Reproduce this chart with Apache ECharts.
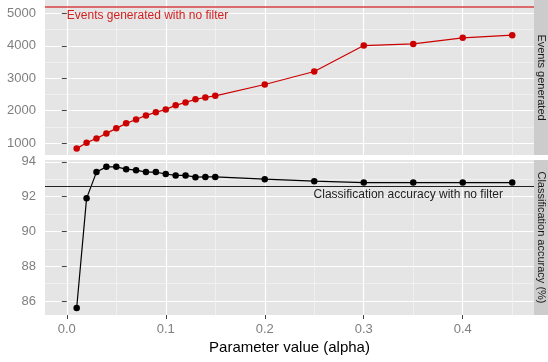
<!DOCTYPE html>
<html>
<head>
<meta charset="utf-8">
<script src="https://cdn.jsdelivr.net/npm/echarts@6/dist/echarts.min.js"></script>
<style>
  html, body { margin: 0; padding: 0; background: #fff; }
  #chart { width: 548px; height: 362px; }
</style>
</head>
<body>
<div id="chart"></div>
<script>
// parameter values (alpha)
const alpha = [0.01, 0.02, 0.03, 0.04, 0.05, 0.06, 0.07, 0.08, 0.09, 0.10,
               0.11, 0.12, 0.13, 0.14, 0.15, 0.20, 0.25, 0.30, 0.35, 0.40, 0.45];
// events generated
const eventsGenerated = [830, 1010, 1145, 1300, 1455, 1610, 1730, 1855, 1950, 2040,
                         2165, 2255, 2350, 2410, 2460, 2810, 3210, 4010, 4060, 4250, 4330];
// classification accuracy (%)
const accuracy = [85.6, 91.9, 93.41, 93.71, 93.71, 93.58, 93.52, 93.41, 93.41, 93.3,
                  93.22, 93.22, 93.12, 93.13, 93.13, 93.0, 92.89, 92.81, 92.81, 92.81, 92.81];
const eventsNoFilter = 5200;
const accuracyNoFilter = 92.6;

const xTicks = [0, 0.1, 0.2, 0.3, 0.4];
const xMinor = [0.05, 0.15, 0.25, 0.35, 0.45];
const eventsTicks = [1000, 2000, 3000, 4000, 5000];
const eventsMinor = [1500, 2500, 3500, 4500];
const accTicks = [86, 88, 90, 92, 94];
const accMinor = [87, 89, 91, 93];

const FONT = "'Liberation Sans', Arial, sans-serif";
const RED = '#cc0000';

const chart = echarts.init(document.getElementById('chart'), null, { renderer: 'canvas' });

function majorX(gridIndex, showLabels) {
  return {
    type: 'value', gridIndex: gridIndex, position: 'bottom',
    min: -0.022, max: 0.472,
    axisLine: { show: false },
    axisTick: { show: showLabels, customValues: xTicks, length: 4, lineStyle: { color: '#444' } },
    axisLabel: {
      show: showLabels, customValues: xTicks, color: '#7f7f7f', fontSize: 13, fontFamily: FONT, margin: 8,
      formatter: v => v.toFixed(1)
    },
    splitLine: { show: true, lineStyle: { color: '#ffffff', width: 1.2 } },
    name: showLabels ? 'Parameter value (alpha)' : '',
    nameLocation: 'middle', nameGap: 25,
    nameTextStyle: { color: '#000', fontSize: 15, fontFamily: FONT }
  };
}
function minorX(gridIndex) {
  return {
    type: 'value', gridIndex: gridIndex, position: 'top',
    min: -0.022, max: 0.472,
    axisLine: { show: false },
    axisTick: { show: false, customValues: xMinor },
    axisLabel: { show: false },
    splitLine: { show: true, lineStyle: { color: '#f2f2f2', width: 0.8 } }
  };
}
function majorY(gridIndex, min, max, ticks) {
  return {
    type: 'value', gridIndex: gridIndex, position: 'left',
    min: min, max: max,
    axisLine: { show: false },
    axisTick: { show: true, customValues: ticks, length: 5, lineStyle: { color: '#444' } },
    axisLabel: {
      customValues: ticks, color: '#7f7f7f', fontSize: 13, fontFamily: FONT, margin: 9,
      formatter: v => String(v)
    },
    splitLine: { show: true, lineStyle: { color: '#ffffff', width: 1.2 } }
  };
}
function minorY(gridIndex, min, max, ticks) {
  return {
    type: 'value', gridIndex: gridIndex, position: 'right',
    min: min, max: max,
    axisLine: { show: false },
    axisTick: { show: false, customValues: ticks },
    axisLabel: { show: false },
    splitLine: { show: true, lineStyle: { color: '#f2f2f2', width: 0.8 } }
  };
}

const option = {
  animation: false,
  backgroundColor: '#ffffff',
  grid: [
    { left: 45, right: 14, top: 0, height: 155, show: true, backgroundColor: '#e5e5e5', borderWidth: 0 },
    { left: 45, right: 14, top: 160, height: 155, show: true, backgroundColor: '#e5e5e5', borderWidth: 0 }
  ],
  xAxis: [minorX(0), majorX(0, false), minorX(1), majorX(1, true)],
  yAxis: [
    minorY(0, 633, 5417, eventsMinor), majorY(0, 633, 5417, eventsTicks),
    minorY(1, 85.195, 94.105, accMinor), majorY(1, 85.195, 94.105, accTicks)
  ],
  series: [
    {
      type: 'line', xAxisIndex: 1, yAxisIndex: 1,
      data: alpha.map((a, i) => [a, eventsGenerated[i]]),
      symbol: 'circle', symbolSize: 6.5,
      lineStyle: { color: RED, width: 1.2 },
      itemStyle: { color: RED },
      markLine: {
        silent: true, symbol: 'none',
        lineStyle: { color: '#d94040', width: 1.5, type: 'solid' },
        label: { show: false },
        data: [{ yAxis: eventsNoFilter }]
      },
      markPoint: {
        silent: true, symbol: 'circle', symbolSize: 0,
        label: {
          show: true, position: 'right', distance: 0, color: '#d21f1f', fontSize: 12, fontFamily: FONT,
          formatter: 'Events generated with no filter'
        },
        data: [{ coord: [0, 4920] }]
      }
    },
    {
      type: 'line', xAxisIndex: 3, yAxisIndex: 3,
      data: alpha.map((a, i) => [a, accuracy[i]]),
      symbol: 'circle', symbolSize: 6.5,
      lineStyle: { color: '#000', width: 1.2 },
      itemStyle: { color: '#000' },
      markLine: {
        silent: true, symbol: 'none',
        lineStyle: { color: '#222', width: 1.2, type: 'solid' },
        label: { show: false },
        data: [{ yAxis: accuracyNoFilter }]
      },
      markPoint: {
        silent: true, symbol: 'circle', symbolSize: 0,
        label: {
          show: true, position: 'inside', color: '#222', fontSize: 12, fontFamily: FONT,
          formatter: 'Classification accuracy with no filter'
        },
        data: [{ coord: [0.345, 92.1] }]
      }
    }
  ],
  graphic: [
    { type: 'rect', left: 534, top: 0, shape: { width: 14, height: 155 }, style: { fill: '#cccccc' }, silent: true },
    { type: 'rect', left: 534, top: 160, shape: { width: 14, height: 155 }, style: { fill: '#cccccc' }, silent: true },
    {
      type: 'text', x: 541, y: 77.5, rotation: -Math.PI / 2, silent: true,
      style: { text: 'Events generated', fill: '#1a1a1a', font: '11px ' + FONT, align: 'center', verticalAlign: 'middle' }
    },
    {
      type: 'text', x: 541, y: 237.5, rotation: -Math.PI / 2, silent: true,
      style: { text: 'Classification accuracy (%)', fill: '#1a1a1a', font: '11px ' + FONT, align: 'center', verticalAlign: 'middle' }
    }
  ]
};

chart.setOption(option);
</script>
</body>
</html>
